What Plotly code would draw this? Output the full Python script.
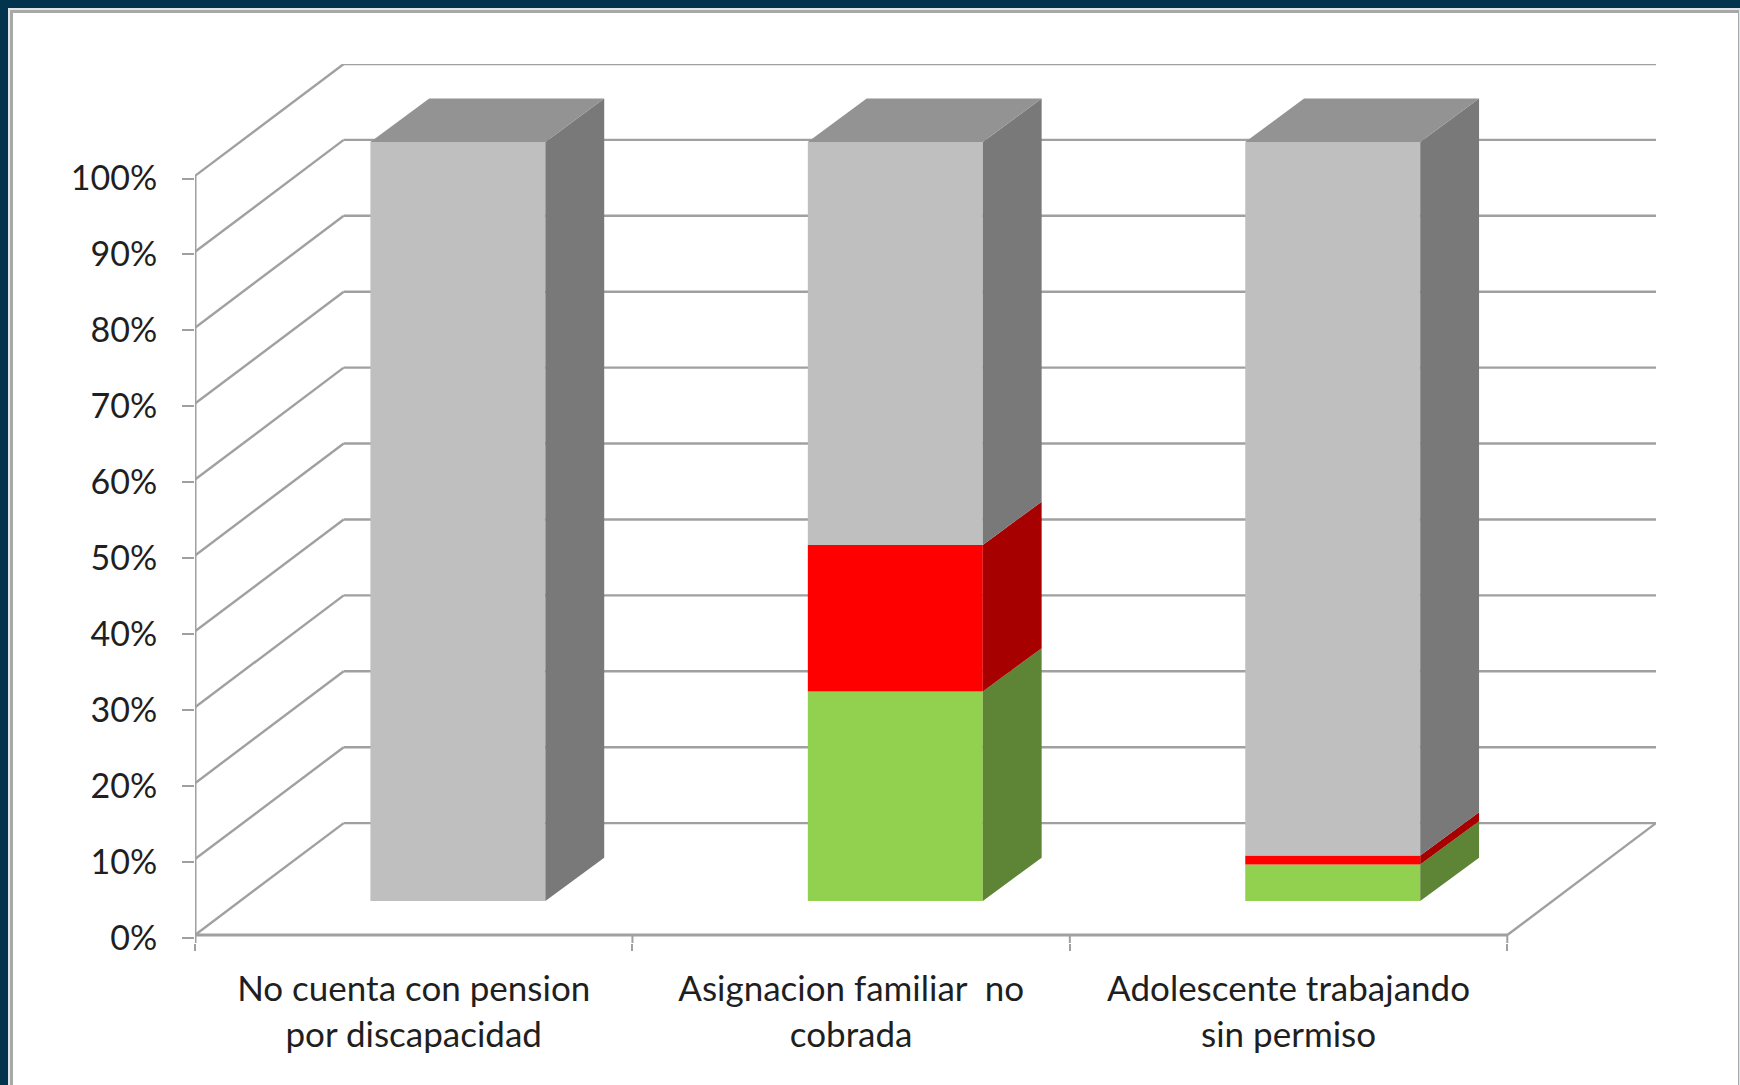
import plotly.graph_objects as go

categories = ["No cuenta con pension<br>por discapacidad",
              "Asignacion familiar  no<br>cobrada",
              "Adolescente trabajando<br>sin permiso"]
green_values = [0, 27.6, 4.8]
red_values = [0, 19.3, 1.2]
grey_values = [100, 53.1, 94.0]
y_ticks = [0, 10, 20, 30, 40, 50, 60, 70, 80, 90, 100]
y_labels = [f"{v}%" for v in y_ticks]

W, H = 1740, 1085
L, R_PX, T, B_PX = 195, 1656, 64, 943

WALL_DX, WALL_DY = 0.34, 14.74
BAR_SHIFT_X, BAR_SHIFT_Y = 0.101, 4.48
BAR_DX, BAR_DY = 0.1345, 5.7
BAR_W = 0.4
TICK_DROP = 0.35  # the tick marks sit slightly under the wall lines
Y_MIN = -1.054    # room under zero so the 0% tick stays on the axis
GRID = "#a0a0a0"
FONT_X = dict(family="Lato, Carlito, Calibri, sans-serif", size=35, color="#1f1f1f")
FONT_Y = dict(family="Lato, Carlito, Calibri, sans-serif", size=34, color="#1f1f1f")

fig = go.Figure()


def poly(xs, ys, fill):
    fig.add_trace(go.Scatter(x=xs, y=ys, mode="lines", fill="toself", fillcolor=fill,
                             line=dict(width=0), hoverinfo="skip", showlegend=False,
                             cliponaxis=False))


# bars
centers = [i + 0.5 + BAR_SHIFT_X for i in range(3)]
series = [
    ("Verde", green_values, "#92d050", "#5e8435"),
    ("Rojo", red_values, "#ff0000", "#a60000"),
    ("Gris", grey_values, "#bfbfbf", "#797979"),
]
cum = [0, 0, 0]
for name, vals, front, side in series:
    base = [BAR_SHIFT_Y + c for c in cum]
    fig.add_trace(go.Bar(x=centers, y=vals, base=base, width=BAR_W, name=name,
                         marker=dict(color=front, line=dict(width=0)), showlegend=False))
    sx, sy = [], []
    for c, b, v in zip(centers, base, vals):
        if v <= 0:
            continue
        x1 = c + BAR_W / 2
        sx += [x1, x1 + BAR_DX, x1 + BAR_DX, x1, x1, None]
        sy += [b, b + BAR_DY, b + v + BAR_DY, b + v, b, None]
    poly(sx, sy, side)
    cum = [c + v for c, v in zip(cum, vals)]

# bar tops
tx, ty = [], []
for c, t in zip(centers, cum):
    top = BAR_SHIFT_Y + t
    x0, x1 = c - BAR_W / 2, c + BAR_W / 2
    tx += [x0, x1, x1 + BAR_DX, x0 + BAR_DX, x0, None]
    ty += [top, top, top + BAR_DY, top + BAR_DY, top, None]
poly(tx, ty, "#939393")

pw, ph = R_PX - L, B_PX - T
px = lambda v: (v - L) / pw
py = lambda v: (B_PX - v) / ph
shapes = [
    dict(type="rect", xref="paper", yref="paper", layer="below",
         x0=px(8), x1=px(W + 5), y0=py(H + 5), y1=py(8),
         fillcolor="#dfe6ea", line=dict(width=0)),
    dict(type="rect", xref="paper", yref="paper", layer="below",
         x0=px(10), x1=px(1739), y0=py(H + 5), y1=py(10),
         fillcolor="#a8a8a8", line=dict(width=0)),
    dict(type="rect", xref="paper", yref="paper", layer="below",
         x0=px(13), x1=px(1738), y0=py(H + 5), y1=py(13),
         fillcolor="#ffffff", line=dict(width=0)),
]


def seg(x0, y0, x1, y1, width=2.4):
    shapes.append(dict(type="line", xref="x", yref="y", layer="below",
                       x0=x0, y0=y0, x1=x1, y1=y1,
                       line=dict(color=GRID, width=width)))


# walls and floor, under the bars
for v in y_ticks:
    seg(0, v, WALL_DX, v + WALL_DY)
    seg(WALL_DX, v + WALL_DY, 3 + WALL_DX, v + WALL_DY)
seg(0, 0, 3, 0, 3)
seg(3, 0, 3 + WALL_DX, WALL_DY, 2.4)
seg(0, Y_MIN, 0, 100, 3)
for i in range(1, 4):
    seg(i, Y_MIN, i, 0, 2)

fig.update_layout(
    width=W, height=H, barmode="overlay", showlegend=False,
    margin=dict(l=L, r=W - R_PX, t=T, b=H - B_PX, pad=0),
    paper_bgcolor="#03344e", plot_bgcolor="rgba(0,0,0,0)",
    font=FONT_X, shapes=shapes,
    xaxis=dict(range=[0, 3 + WALL_DX], tickmode="array",
               tickvals=[0.5, 1.5, 2.5], ticktext=categories,
               ticks="outside", ticklen=15, tickcolor="rgba(0,0,0,0)",
               minor=dict(tickmode="array", tickvals=[0, 1, 2, 3], ticks="outside",
                          ticklen=7, tickcolor=GRID, tickwidth=2),
               showgrid=False, zeroline=False, showline=False, tickfont=FONT_X),
    yaxis=dict(range=[Y_MIN, 100 + WALL_DY], tickmode="array",
               tickvals=[v - TICK_DROP for v in y_ticks], ticktext=y_labels,
               ticks="outside", ticklen=12, tickcolor=GRID, tickwidth=2, ticklabelstandoff=18,
               showgrid=False, zeroline=False, showline=False, tickfont=FONT_Y),
)

fig.write_html("out.html", config=dict(displayModeBar=False),
               post_script="document.body.style.margin='0';document.documentElement.style.overflow='hidden';")
